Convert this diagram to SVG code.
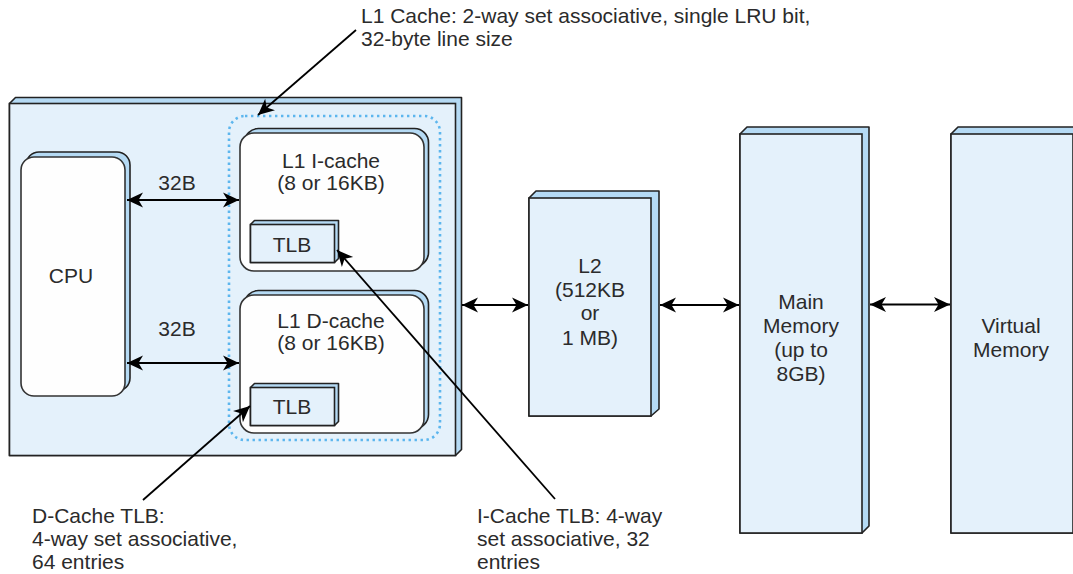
<svg xmlns="http://www.w3.org/2000/svg" width="1073" height="574" viewBox="0 0 1073 574">
  <style>
    .slab { fill: #b5daf4; stroke: #222; stroke-width: 1.6; stroke-linejoin: round; }
    .face { fill: #e4f1fb; stroke: #222; stroke-width: 1.6; }
    .card { fill: #fefefe; stroke: #333; stroke-width: 1.6; }
    .group-outline { fill: none; stroke: #5cb6ee; stroke-width: 2.6; stroke-dasharray: 2.4 3.6; }
    .link { fill: none; stroke: #000; stroke-width: 2; }
    .callout { fill: none; stroke: #000; stroke-width: 1.8; }
    text { font-family: "Liberation Sans", Arial, Helvetica, sans-serif; font-size: 21px; fill: #2b2b2b; }
    .mid { text-anchor: middle; }
  </style>
  <defs>
    <marker id="head" viewBox="-17 -9 18 18" refX="0" refY="0" markerWidth="18" markerHeight="18" markerUnits="userSpaceOnUse" orient="auto-start-reverse">
      <path d="M0,0 L-16,-7.5 L-11.5,0 L-16,7.5 Z" fill="#000"/>
    </marker>
  </defs>

  <!-- processor package -->
  <g id="package">
    <path class="slab" d="M9.5,103.5 L15.5,97.5 L461.5,97.5 L461.5,449.5 L455.5,455.5 L9.5,455.5 Z"/>
    <rect class="face" x="9.5" y="103.5" width="446" height="352"/>
  </g>

  <!-- CPU core -->
  <g id="cpu">
    <rect class="slab" x="26" y="152" width="104" height="239" rx="13"/>
    <rect class="card" x="21" y="157" width="104" height="239" rx="13"/>
    <text class="mid" x="71" y="283">CPU</text>
  </g>

  <!-- L1 cache grouping -->
  <g id="l1-group">
    <rect class="group-outline" x="229" y="116" width="211" height="324" rx="16"/>
  </g>

  <!-- L1 instruction cache -->
  <g id="l1-icache">
    <rect class="slab" x="244.5" y="128.5" width="184" height="138" rx="14"/>
    <rect class="card" x="240" y="133" width="184" height="138" rx="14"/>
    <text class="mid" x="331" y="168">L1 I-cache</text>
    <text class="mid" x="331" y="190">(8 or 16KB)</text>
  </g>

  <g id="itlb">
    <path class="slab" d="M250.5,224.5 L254.5,220.5 L338.5,220.5 L338.5,258.5 L334.5,262.5 L250.5,262.5 Z"/>
    <rect class="face" x="250.5" y="224.5" width="84" height="38"/>
    <text class="mid" x="292" y="251.5">TLB</text>
  </g>

  <!-- L1 data cache -->
  <g id="l1-dcache">
    <rect class="slab" x="244.5" y="290.5" width="184" height="138" rx="14"/>
    <rect class="card" x="240" y="295" width="184" height="138" rx="14"/>
    <text class="mid" x="331" y="327.5">L1 D-cache</text>
    <text class="mid" x="331" y="350">(8 or 16KB)</text>
  </g>

  <g id="dtlb">
    <path class="slab" d="M250.5,387.5 L254.5,383.5 L338.5,383.5 L338.5,421.5 L334.5,425.5 L250.5,425.5 Z"/>
    <rect class="face" x="250.5" y="387.5" width="84" height="38"/>
    <text class="mid" x="292" y="414">TLB</text>
  </g>

  <!-- L2 cache -->
  <g id="l2">
    <path class="slab" d="M529,198 L536,191 L659,191 L659,409 L651,416 L529,416 Z"/>
    <rect class="face" x="529" y="198" width="122" height="218"/>
    <text class="mid" x="590" y="273">L2</text>
    <text class="mid" x="590" y="297">(512KB</text>
    <text class="mid" x="590" y="320">or</text>
    <text class="mid" x="590" y="345">1 MB)</text>
  </g>

  <!-- main memory -->
  <g id="main-memory">
    <path class="slab" d="M740,134 L747,127 L869,127 L869,526 L862,533 L740,533 Z"/>
    <rect class="face" x="740" y="134" width="122" height="399"/>
    <text class="mid" x="801" y="309">Main</text>
    <text class="mid" x="801" y="333">Memory</text>
    <text class="mid" x="801" y="357">(up to</text>
    <text class="mid" x="801" y="381">8GB)</text>
  </g>

  <!-- virtual memory -->
  <g id="virtual-memory">
    <path class="slab" d="M951,134 L958,127 L1080,127 L1080,526 L1073,533 L951,533 Z"/>
    <rect class="face" x="951" y="134" width="122" height="399"/>
    <text class="mid" x="1011" y="333">Virtual</text>
    <text class="mid" x="1011" y="357">Memory</text>
  </g>

  <!-- connectors -->
  <g id="connectors">
    <line class="link" x1="127" y1="200" x2="239" y2="200" marker-start="url(#head)" marker-end="url(#head)"/>
    <line class="link" x1="127" y1="363" x2="239" y2="363" marker-start="url(#head)" marker-end="url(#head)"/>
    <line class="link" x1="462" y1="305" x2="528" y2="305" marker-start="url(#head)" marker-end="url(#head)"/>
    <line class="link" x1="660" y1="305" x2="739" y2="305" marker-start="url(#head)" marker-end="url(#head)"/>
    <line class="link" x1="870" y1="304.5" x2="950" y2="304.5" marker-start="url(#head)" marker-end="url(#head)"/>
    <line class="callout" x1="356" y1="30" x2="258" y2="115" marker-end="url(#head)"/>
    <line class="callout" x1="555" y1="499" x2="337" y2="250" marker-end="url(#head)"/>
    <line class="callout" x1="143" y1="500" x2="250" y2="406" marker-end="url(#head)"/>
  </g>

  <!-- labels -->
  <g id="labels">
    <text class="mid" x="177" y="190">32B</text>
    <text class="mid" x="177" y="336">32B</text>
    <text x="361" y="23">L1 Cache: 2-way set associative, single LRU bit,</text>
    <text x="361" y="46">32-byte line size</text>
    <text x="32" y="523">D-Cache TLB:</text>
    <text x="32" y="546">4-way set associative,</text>
    <text x="32" y="569">64 entries</text>
    <text x="477" y="523">I-Cache TLB: 4-way</text>
    <text x="477" y="546">set associative, 32</text>
    <text x="477" y="569">entries</text>
  </g>
</svg>
